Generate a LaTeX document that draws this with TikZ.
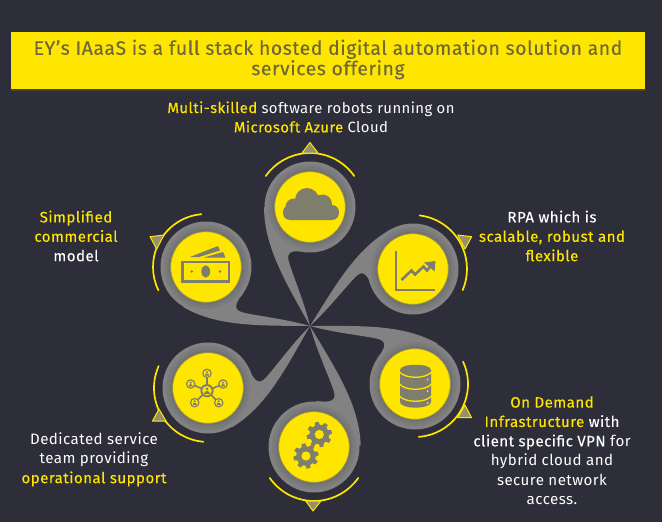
\documentclass[tikz,border=0pt]{standalone}
\usepackage{fontspec}
\setmainfont{Fira Sans}
\newfontfamily\titlefont[LetterSpace=3,FakeBold=0.2]{Fira Sans}
\newfontfamily\bodyfont[LetterSpace=3,FakeBold=0.1]{Fira Sans}
\newfontfamily\thinfont[LetterSpace=3]{Fira Sans}
\definecolor{bgc}{HTML}{2D2E39}
\definecolor{eyy}{HTML}{FFE600}
\definecolor{petalc}{HTML}{828282}
\definecolor{iconc}{HTML}{7F7D6C}
\definecolor{titlec}{HTML}{6E6838}
\definecolor{edgec}{HTML}{A09A30}
\newcommand{\yl}[1]{\textcolor{eyy}{#1}}
\tikzset{
  petal/.style={fill=petalc,draw=none},
  swoosh/.style={draw=eyy,line width=1.7pt,line cap=round},
  marker/.style={fill=petalc!85!eyy,draw=eyy,line width=1pt,line join=round},
  label/.style={text=white,align=center,font=\bodyfont\fontsize{15.1}{19.4}\selectfont,inner sep=0pt},
  ico/.style={fill=iconc,draw=none},
  icoline/.style={draw=iconc,line join=miter}
}
\usetikzlibrary{calc}
\newcommand{\bloom}[5]{%
  \pgfmathsetmacro{\ang}{atan2(326-#2,#1-310)-90}%
  \pgfmathsetmacro{\scl}{veclen(#1-310,326-#2)/118}%
  \begin{scope}[shift={(310,326)},rotate=\ang,scale=\scl]
    \path[petal] (0pt,0pt) .. controls (-22pt,40pt) and (-46pt,78pt) .. (-45.5pt,118pt)
      -- (0pt,118pt) -- (-4pt,73.2pt) .. controls (-17pt,75.5pt) and (-24pt,74pt) .. (-21pt,64pt)
      .. controls (-17pt,50pt) and (-6pt,25pt) .. (0pt,0pt) -- cycle;
  \end{scope}
  \fill[petalc] (#1,#2) circle[radius=45.5pt];
  \fill[black!2!petalc!97!black] (#1,#2) circle[radius=42pt];
  \fill[petalc!93!black] (#1,#2) circle[radius=40pt];
  \fill[petalc!88!black] (#1,#2) circle[radius=38pt];
  \fill[eyy,draw=edgec,line width=.6pt] (#1,#2) circle[radius=35.3pt];
  \draw[swoosh] ($(#1,#2)+(#3:#5)$) arc[start angle=#3,end angle=#4,radius=#5];
}
\newcommand{\gearicon}[2]{%
  \fill[ico] (#1,#2) circle[radius=9.8pt];
  \foreach \a in {0,45,...,315}
    \fill[ico,shift={(#1,#2)},rotate=\a+12] (-2.6pt,8pt) -- (-1.9pt,12.6pt) -- (1.9pt,12.6pt) -- (2.6pt,8pt) -- cycle;
  \fill[eyy] (#1,#2) circle[radius=4.6pt];
}
\newcommand{\person}[3]{%
  \fill[iconc] (#1,#2) circle[radius=#3*1pt];
  \fill[eyy] (#1,#2) circle[radius=#3*.72pt];
  \fill[iconc] (#1,#2) ++(0pt,#3*.28pt) circle[radius=#3*.24pt];
  \fill[iconc] (#1,#2) ++(-#3*.45pt,-#3*.48pt) arc[start angle=180,end angle=0,radius=#3*.45pt] -- cycle;
}
\begin{document}
\begin{tikzpicture}[x=1pt,y=-1pt]
\useasboundingbox (0,0) rectangle (662,522);
\fill[bgc] (0,0) rectangle (662,522);
% banner
\fill[black!50!eyy!30!bgc] (11,32) rectangle (645,90.5);
\node[fill=eyy,minimum width=634pt,minimum height=57pt,inner sep=0pt,anchor=north west] (banner) at (11,32) {};
\node[text=titlec,align=center,font=\titlefont\fontsize{19.35}{20.4}\selectfont,inner sep=0pt] (title) at (328,59.5)
  {EY’s IAaaS is a full stack hosted digital automation solution and\\services offering};
% blooms
\bloom{310}{207}{35}{145}{54pt}
\bloom{206}{267}{95}{206}{53pt}
\bloom{413}{269}{83}{-23}{54pt}
\bloom{415}{384}{25}{-86}{53pt}
\bloom{314}{447}{215}{325}{54pt}
\bloom{208}{388}{156}{265}{54pt}
% markers
\draw[marker] (310,142.5) -- (302,153) -- (318,153) -- cycle;
\draw[marker] (150,236.7) -- (164,235) -- (156.7,249) -- cycle;
\draw[marker] (457.7,235) -- (471.7,236.7) -- (465,249) -- cycle;
\draw[marker] (457.7,417.7) -- (471.5,417.7) -- (465,405) -- cycle;
\draw[marker] (305.7,501) -- (321,501) -- (313,511) -- cycle;
\draw[marker] (152.5,421) -- (166,421) -- (159,409) -- cycle;
% cloud
\fill[ico,rounded corners=7pt] (283,205) rectangle (339,220);
\fill[ico] (307,200) circle[radius=12pt] (294,207) circle[radius=8.5pt] (322.5,204) circle[radius=9.5pt];
% money
\draw[icoline,line width=2.6pt] (182.5,262) rectangle (229,281.5);
\fill[ico] (205.7,271.5) ellipse[x radius=4.4pt,y radius=6.2pt];
\fill[ico] (191.7,271.5) circle[radius=1.4pt] (220,271.5) circle[radius=1.4pt];
\fill[ico] (190,257) -- (218,246) -- (220,250.5) -- (199,257) -- cycle;
\fill[ico] (204,257.5) -- (223,252) -- (225.5,257.5) -- cycle;
% chart
\draw[icoline,line width=2.8pt] (396,250.5) -- (396,290) -- (435,290);
\draw[icoline,line width=2.6pt] (401.5,280) -- (411.5,270.5) -- (415,274.5) -- (423.5,266.5) -- (427,270.5) -- (432,264.5);
\fill[ico] (424,262.5) -- (435.5,261) -- (434.5,271.5) -- cycle;
% database
\fill[ico] (400,370) .. controls (400,363) and (431,363) .. (431,370) -- (431,402)
  .. controls (431,409.5) and (400,409.5) .. (400,402) -- cycle;
\foreach \yy/\mm in {372/379,384/391,396/403}
  \draw[eyy,line width=1.3pt] (399.5,\yy) .. controls (405,\mm) and (426,\mm) .. (431.5,\yy);
\fill[eyy] (427.5,379.5) circle[radius=1pt] (427.5,391) circle[radius=1pt] (427.5,403) circle[radius=1pt];
% gears
\gearicon{319.3}{434.5}
\gearicon{306}{456}
% network
\foreach \px/\py in {207/373.3,223/384,218.7/402.7,194.7/402.7,190.7/384}{
  \draw[icoline,line width=1.6pt] (207,390.7) -- (\px,\py);
  \person{\px}{\py}{4.8}
}
\person{207}{390.7}{6.6}
% labels
\node[label,font=\bodyfont\fontsize{14.85}{19.4}\selectfont] (ltop) at (311,117) {\yl{Multi-skilled} {\thinfont software robots running on}\\\yl{Microsoft Azure} {\thinfont Cloud}};
\node[label] (lsim) at (76,236) {\yl{Simplified}\\\yl{commercial}\\model};
\node[label] (lrpa) at (552,236) {RPA which is\\\yl{scalable, robust and}\\\yl{flexible}};
\node[label] (linf) at (552,450.5) {\yl{On Demand}\\\yl{Infrastructure} with\\client specific VPN {\thinfont for}\\{\thinfont hybrid cloud and}\\{\thinfont secure network}\\{\thinfont access.}};
\node[label] (lded) at (94,459.5) {{\thinfont Dedicated service}\\{\thinfont team providing}\\\yl{operational support}};
\end{tikzpicture}
\end{document}
